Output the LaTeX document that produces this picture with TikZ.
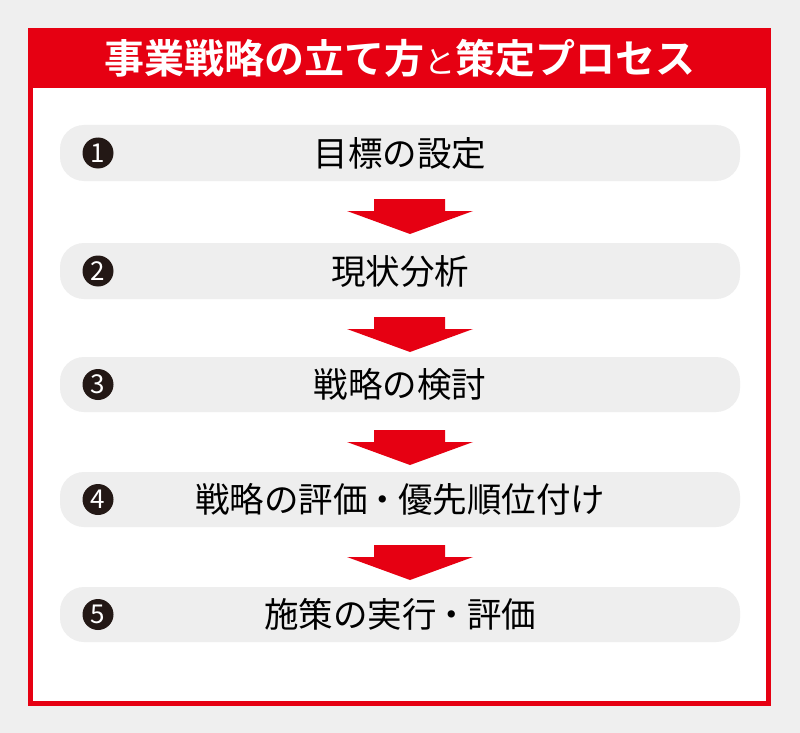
\documentclass[tikz,border=0pt]{standalone}
\usepackage{fontspec}
\newfontfamily\cjk{Noto Sans CJK JP}
\newfontfamily\cjkb{Noto Sans CJK JP Bold}
\definecolor{bgray}{HTML}{EFEFEF}
\definecolor{pillgray}{HTML}{EEEEEE}
\definecolor{mred}{HTML}{E60012}
\definecolor{dark}{HTML}{231815}
\begin{document}
\begin{tikzpicture}[x=1pt,y=-1pt,
  pill/.style={fill=pillgray,draw=none,rounded corners=24pt},
  numc/.style={circle,fill=dark,draw=none,minimum size=31pt,inner sep=0pt,text=white,font=\cjk\fontsize{26}{26}\selectfont},
  lbl/.style={font=\cjk\fontsize{34.5}{34.5}\selectfont,text=black,inner sep=0pt},
  downarrow/.style={fill=mred,draw=none}]
\useasboundingbox (0,0) rectangle (800,733);
\fill[bgray] (0,0) rectangle (800,733);
% frame
\fill[mred] (28,28) rectangle (771,706);
\fill[white] (33,88) rectangle (766,701);
\node[font=\cjkb\fontsize{40}{40}\selectfont,text=white,inner sep=0pt] (title) at (400,58)
  {事業戦略の立て方{\cjk\fontsize{31}{31}\selectfont と}策定プロセス};
% pills
\foreach \t/\b/\n/\txt in {125/181/1/目標の設定,243/299/2/現状分析,357/412/3/戦略の検討,472/527/4/{戦略の評価\kern-2pt・\kern-2pt優先順位付け},587/642/5/{施策の実行\kern-2pt・\kern-2pt評価}}{
  \fill[pill] (60,\t) rectangle (740,\b);
  \node[numc] (n\n) at (98,{(\t+\b)/2}) {\n};
  \node[lbl] (l\n) at (400,{(\t+\b)/2}) {\txt};
}
% arrows
\foreach \k/\y in {1/199,2/317,3/430,4/545}{
  \fill[downarrow] (374,\y) -- (445,\y) -- (445,\y+12) -- (473,\y+12) -- (410,\y+35) -- (347,\y+12) -- (374,\y+12) -- cycle;
}
\end{tikzpicture}
\end{document}
